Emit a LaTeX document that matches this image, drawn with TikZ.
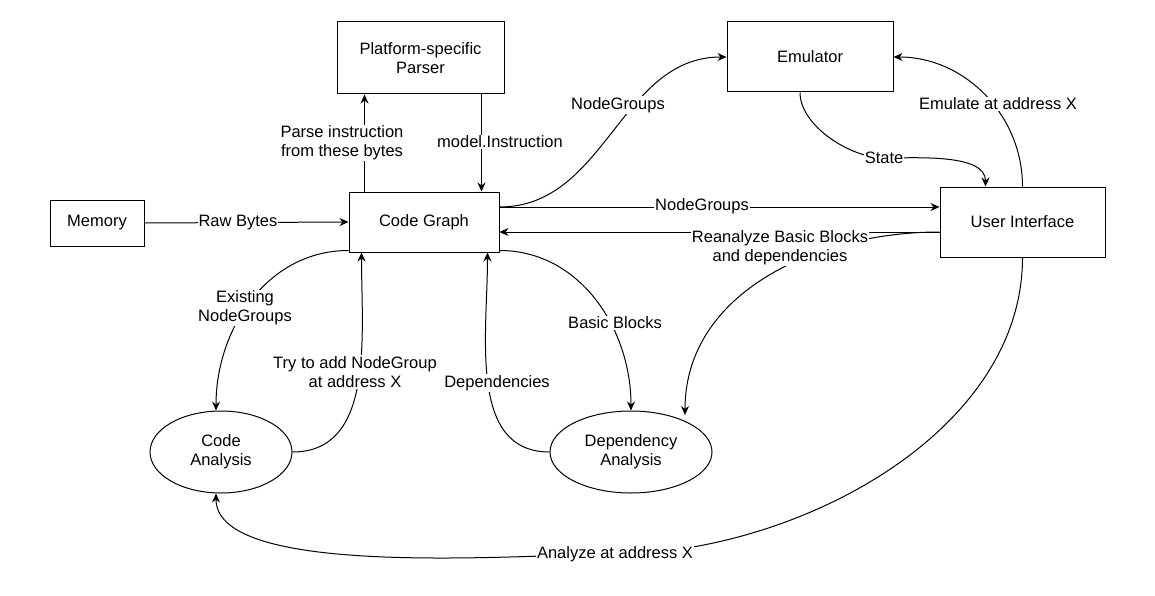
\documentclass[tikz,border=0pt]{standalone}
\usepackage{fontspec}
\setmainfont{Liberation Sans}
\usetikzlibrary{calc,shapes.geometric,arrows.meta}
\begin{document}
\begin{tikzpicture}[x=1pt,y=-1pt,
  every node/.style={font=\fontsize{16.5}{19}\selectfont},
  box/.style={draw,line width=1pt,minimum width=#1,inner sep=0pt},
  ell/.style={draw,line width=1pt,ellipse,inner sep=0pt,align=center},
  lbl/.style={fill=white,inner sep=1pt,align=center},
  arr/.style={-{Stealth[length=9pt,width=8pt]},line width=1pt}]
\useasboundingbox (0,0) rectangle (1155,596);
\node[box=167pt,minimum height=72pt,align=center] (pp) at (420.5,58) {Platform-specific\\Parser};
\node[box=166pt,minimum height=70pt] (em) at (810,57) {Emulator};
\node[box=94pt,minimum height=46pt] (mem) at (97,223) {Memory};
\node[box=150pt,minimum height=60pt] (cg) at (424,222) {Code Graph};
\node[box=165pt,minimum height=70pt] (ui) at (1022.5,222) {User Interface};
\node[ell,minimum width=142pt,minimum height=82pt] (ca) at (221,452) {Code\\Analysis};
\node[ell,minimum width=162pt,minimum height=82pt] (dep) at (631,452) {Dependency\\Analysis};

\draw[arr] (mem.east) -- (cg.west);
\node[lbl] at (238,223) {Raw Bytes};
\draw[arr] ($(cg.north west)+(16,0)$) -- ($(pp.south west)+(28,0)$);
\node[lbl] at (342,143) {Parse instruction\\from these bytes};
\draw[arr] ($(pp.south east)+(-23,0)$) -- ($(cg.north east)+(-18,0)$);
\node[lbl] at (500,142) {model.Instruction};
\draw[arr] ($(cg.east)+(0,-15)$) to[out=0,in=180] (em.west);
\node[lbl] at (618,105) {NodeGroups};
\coordinate (st) at (884,158);
\draw[arr] ($(em.south)+(-10,0)$) to[out=-90,in=180,looseness=0.8] (st) to[out=0,in=90,looseness=0.8] ($(ui.north)+(-37,0)$);
\node[lbl] at (st) {State};
\draw[arr] (ui.north) to[out=90,in=0] (em.east);
\node[lbl] at (998,104) {Emulate at address X};
\draw[arr] ($(cg.east)+(0,-15)$) -- ($(ui.west)+(0,-15)$);
\node[lbl] at (702,206) {NodeGroups};
\draw[arr] ($(ui.west)+(0,10)$) -- ($(cg.east)+(0,10)$);
\draw[arr] ($(ui.west)+(0,10)$) to[out=180,in=90] ($(dep.center)+(54,-37)$);
\node[lbl] at (780,248) {Reanalyze Basic Blocks\\and dependencies};
\draw[arr] ($(cg.south west)+(0,-2)$) to[out=180,in=90] ($(ca.north)+(-5,0)$);
\node[lbl] at (245,308) {Existing\\NodeGroups};
\draw[arr] (ca.east) to[out=0,in=-90] ($(cg.south west)+(13,0)$);
\node[lbl] at (355,372) {Try to add NodeGroup\\at address X};
\draw[arr] (dep.west) to[out=180,in=-90] ($(cg.south east)+(-12,0)$);
\node[lbl] at (497,383) {Dependencies};
\draw[arr] ($(cg.south east)+(0,-2)$) to[out=0,in=90] (dep.north);
\node[lbl] at (615,323) {Basic Blocks};
\coordinate (az) at (615,554);
\draw[arr] (ui.south) to[out=-90,in=0,looseness=0.9] (az) to[out=180,in=-90,looseness=0.55] ($(ca.south)+(-5,0)$);
\node[lbl] at (az) {Analyze at address X};
\end{tikzpicture}
\end{document}
